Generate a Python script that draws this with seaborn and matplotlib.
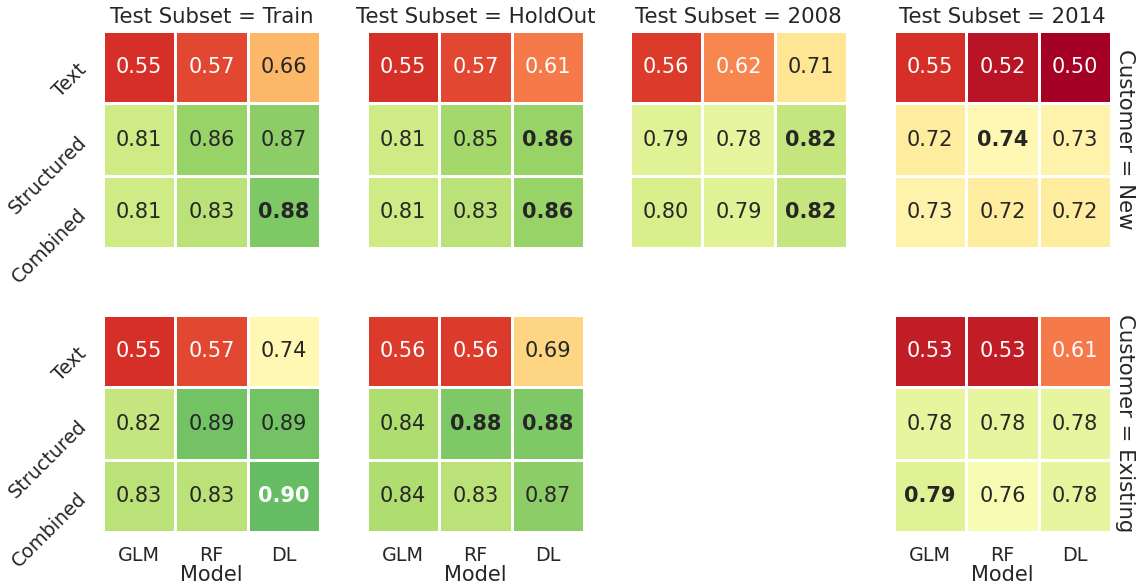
import numpy as np
import pandas as pd
import seaborn as sns
import matplotlib
matplotlib.use("Agg")
import matplotlib.pyplot as plt

# ---- data ----
models = ["GLM", "RF", "DL"]
features = ["Text", "Structured", "Combined"]
subsets = ["Train", "HoldOut", "2008", "2014"]
customers = ["New", "Existing"]

new_train = [[0.55, 0.57, 0.66], [0.81, 0.86, 0.87], [0.81, 0.83, 0.88]]
new_holdout = [[0.55, 0.57, 0.61], [0.81, 0.85, 0.86], [0.81, 0.83, 0.86]]
new_2008 = [[0.56, 0.62, 0.71], [0.79, 0.78, 0.82], [0.80, 0.79, 0.82]]
new_2014 = [[0.55, 0.52, 0.50], [0.72, 0.74, 0.73], [0.73, 0.72, 0.72]]
existing_train = [[0.55, 0.57, 0.74], [0.82, 0.89, 0.89], [0.83, 0.83, 0.90]]
existing_holdout = [[0.56, 0.56, 0.69], [0.84, 0.88, 0.88], [0.84, 0.83, 0.87]]
existing_2014 = [[0.53, 0.53, 0.61], [0.78, 0.78, 0.78], [0.79, 0.76, 0.78]]

panels = {
    ("New", "Train"): new_train,
    ("New", "HoldOut"): new_holdout,
    ("New", "2008"): new_2008,
    ("New", "2014"): new_2014,
    ("Existing", "Train"): existing_train,
    ("Existing", "HoldOut"): existing_holdout,
    ("Existing", "2014"): existing_2014,
}

rows = []
for (cust, sub), mat in panels.items():
    for fi, feat in enumerate(features):
        for mi, mod in enumerate(models):
            rows.append({"Customer": cust, "Test Subset": sub,
                         "Features": feat, "Model": mod, "AUC": mat[fi][mi]})
df = pd.DataFrame(rows)
df["Customer"] = pd.Categorical(df["Customer"], customers)
df["Test Subset"] = pd.Categorical(df["Test Subset"], subsets)

sns.set_theme(style="white", context="notebook", font_scale=1.25)

g = sns.FacetGrid(df, row="Customer", col="Test Subset",
                  row_order=customers, col_order=subsets,
                  margin_titles=True, sharex=False, sharey=False,
                  height=3, aspect=1)


def draw(data, **kws):
    ax = plt.gca()
    mat = data.pivot_table(index="Features", columns="Model", values="AUC")
    mat = mat.reindex(index=features, columns=models)
    n_before = len(ax.texts)
    sns.heatmap(mat, ax=ax, annot=True, fmt=".2f", cmap="RdYlGn",
                vmin=0.5, vmax=1.0, cbar=False, linewidths=1,
                linecolor="white", annot_kws={"size": 15})
    best = np.nanmax(mat.values)
    for t in ax.texts[n_before:]:
        try:
            v = float(t.get_text())
        except ValueError:
            continue
        if abs(v - best) < 1e-9:
            t.set_fontweight("bold")


g.map_dataframe(draw)
g.set_titles(col_template="Test Subset = {col_name}",
             row_template="Customer = {row_name}", size=15.3)

fig = g.figure
fig.set_size_inches(11.4, 5.87)

W, H = 1140, 587
lefts = [103, 367, 630, 894]
tops = [31, 315]
size = 217

for r in range(2):
    for c in range(4):
        ax = g.axes[r, c]
        ax.set_position([lefts[c] / W, (H - tops[r] - size) / H,
                         size / W, size / H])
        ax.set_ylabel("")
        ax.tick_params(axis="x", length=0, pad=10)
        ax.tick_params(axis="y", length=0, pad=14)
        if (r, c) == (1, 2):
            ax.set_axis_off()
            continue
        if c == 0:
            ax.set_yticks(np.arange(len(features)) + 0.5)
            ax.set_yticklabels(features, rotation=45, fontsize=13.75,
                               ha="right", va="center",
                               rotation_mode="anchor")
        else:
            ax.set_yticks([])
        if r == 1:
            ax.set_xticks(np.arange(len(models)) + 0.5)
            ax.set_xticklabels(models, rotation=0, fontsize=13.75)
            ax.set_xlabel("Model", fontsize=15, labelpad=0)
        else:
            ax.set_xticks([])
            ax.set_xlabel("")

fig.savefig("out.png", dpi=100)
